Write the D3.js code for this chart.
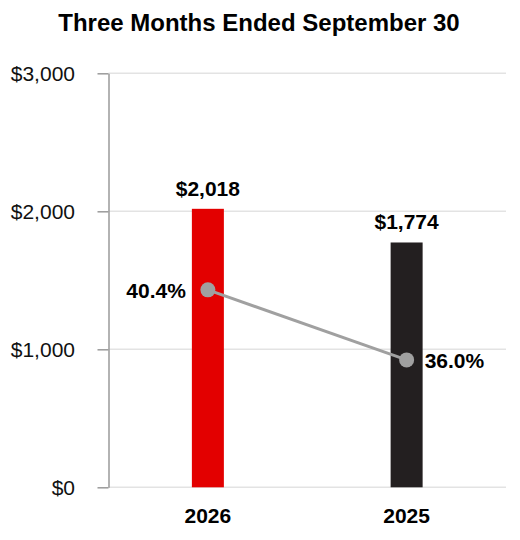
<!DOCTYPE html>
<html>
<head>
<meta charset="utf-8">
<script src="https://cdn.jsdelivr.net/npm/d3@7"></script>
<style>
  body { margin: 0; background: #fff; }
  svg text { font-family: "Liberation Sans", Arial, sans-serif; }
</style>
</head>
<body>
<svg id="chart" width="520" height="540"></svg>
<script>
// chart data
const years = ["2026", "2025"];
const amounts = [2018, 1774];           // $ millions
const margins = [40.4, 36.0];           // percent
const yTicks = [0, 1000, 2000, 3000];
const barColors = ["#e30000", "#231f20"];

const svg = d3.select("#chart");
const plot = {left: 108.5, right: 506, top: 73.3, bottom: 487.3};

const x = d3.scaleBand().domain(years).range([plot.left, plot.right]);
const y = d3.scaleLinear().domain([0, 3000]).range([plot.bottom, plot.top]);
// hidden secondary scale for the margin line
const yPct = d3.scaleLinear().domain([28, 54]).range([plot.bottom, plot.top]);

const cx = d => x(d) + x.bandwidth() / 2;
const fmt = d3.format("$,");

// title
svg.append("text")
    .attr("x", 259).attr("y", 30.5)
    .attr("text-anchor", "middle")
    .style("font-size", "24px").style("font-weight", "bold")
    .text("Three Months Ended September 30");

// gridlines
svg.append("g").selectAll("line")
    .data(yTicks)
    .join("line")
    .attr("x1", plot.left).attr("x2", plot.right)
    .attr("y1", d => y(d)).attr("y2", d => y(d))
    .attr("stroke", "#e3e3e3").attr("stroke-width", 1.5);

// left axis
let yAxis = svg.append("g")
    .attr("transform", `translate(${plot.left},0)`)
    .call(d3.axisLeft(y).tickValues(yTicks).tickFormat(fmt).tickSizeInner(11).tickSizeOuter(0).tickPadding(22.5));
yAxis.select(".domain").attr("stroke", "#9a9a9a").attr("stroke-width", 1.5);
yAxis.selectAll(".tick line").attr("stroke", "#9a9a9a").attr("stroke-width", 1.5);
yAxis.selectAll(".tick text")
    .attr("fill", "#111")
    .style("font-size", "21px")
    .style("font-family", "'Liberation Sans', Arial, sans-serif");

// bars
const barW = 32;
svg.append("g").selectAll("rect")
    .data(years)
    .join("rect")
    .attr("x", d => cx(d) - barW / 2)
    .attr("width", barW)
    .attr("y", (d, i) => y(amounts[i]))
    .attr("height", (d, i) => y(0) - y(amounts[i]))
    .attr("fill", (d, i) => barColors[i]);

// bar value labels
svg.append("g").selectAll("text")
    .data(years)
    .join("text")
    .attr("x", d => cx(d))
    .attr("y", (d, i) => y(amounts[i]) - 13)
    .attr("text-anchor", "middle")
    .style("font-size", "21px").style("font-weight", "bold")
    .text((d, i) => fmt(amounts[i]));

// x labels
svg.append("g").selectAll("text")
    .data(years)
    .join("text")
    .attr("x", d => cx(d))
    .attr("y", 523)
    .attr("text-anchor", "middle")
    .style("font-size", "21px").style("font-weight", "bold")
    .text(d => d);

// margin line
const line = d3.line()
    .x((d, i) => cx(years[i]))
    .y(d => yPct(d));
svg.append("path")
    .datum(margins)
    .attr("d", line)
    .attr("fill", "none")
    .attr("stroke", "#a0a0a0")
    .attr("stroke-width", 3);

svg.append("g").selectAll("circle")
    .data(margins)
    .join("circle")
    .attr("cx", (d, i) => cx(years[i]))
    .attr("cy", d => yPct(d))
    .attr("r", 7.5)
    .attr("fill", "#a0a0a0");

svg.append("g").selectAll("text")
    .data(margins)
    .join("text")
    .attr("x", (d, i) => i === 0 ? cx(years[i]) - 22 : cx(years[i]) + 18)
    .attr("y", d => yPct(d) + 8)
    .attr("text-anchor", (d, i) => i === 0 ? "end" : "start")
    .style("font-size", "21px").style("font-weight", "bold")
    .text(d => d3.format(".1f")(d) + "%");
</script>
</body>
</html>
